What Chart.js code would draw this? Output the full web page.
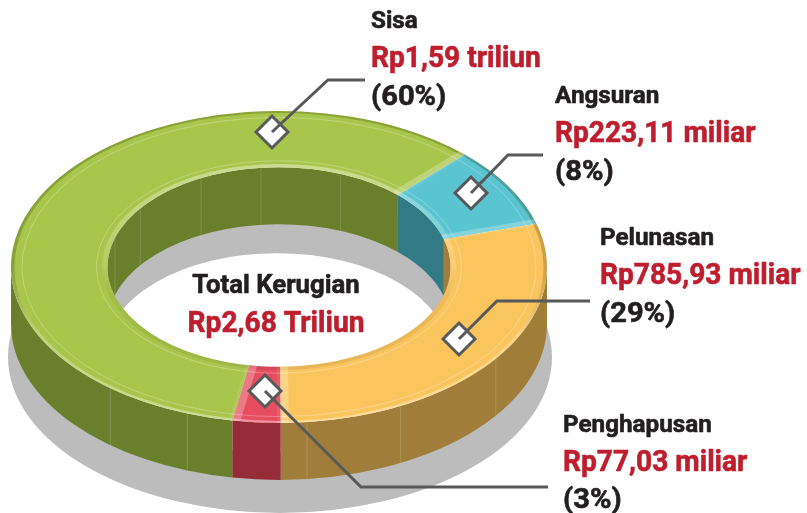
<!DOCTYPE html>
<html><head><meta charset="utf-8">
<style>html,body{margin:0;padding:0;background:#fff}canvas{display:block}</style>
<script src="https://cdn.jsdelivr.net/npm/chart.js@4"></script>
</head><body><canvas id="c" width="807" height="513"></canvas>
<script>
// ---- data ----
const categories = ['Sisa', 'Angsuran', 'Pelunasan', 'Penghapusan'];
const values = [1590, 223.11, 785.93, 77.03];
const amountLabels = ['Rp1,59 triliun', 'Rp223,11 miliar', 'Rp785,93 miliar', 'Rp77,03 miliar'];
const percentLabels = ['(60%)', '(8%)', '(29%)', '(3%)'];
const totalTitle = 'Total Kerugian';
const totalAmount = 'Rp2,68 Triliun';
// ---- style ----
const faceColors = ['#a9c64c', '#5ac4d0', '#fbc55e', '#e64e5f'];
const wallColors = ['#6a7f2c', '#327a85', '#a07d38', '#952c38'];
const groundColor = '#bcbcbc', leaderColor = '#58595b', inkColor = '#231f20', redColor = '#be1e2d';
const FX = 279, FY = 267, SQUASH = 0.582, WALL = 57;
const GROUND_DY = 90;
const FONT = 'Roboto';
const labelLayout = [
  {x:371, y:[28,67,105], marker:[272,132], path:[[328,80],[365,80]]},
  {x:555, y:[103,142,180], marker:[471,193], path:[[508,155],[543,155]]},
  {x:600, y:[245,284,322], marker:[459,339], path:[[497,301],[590,301]]},
  {x:563, y:[432,471,508], marker:[265,391], path:[[361,487],[548,487]]}
];
const outerSeams = [36, 63, 84, 110, 129];
const innerSeams = [197, 216, 243, 264, 291];

function ringGeom(chart){
  const a = chart.getDatasetMeta(0).data;
  return {arcs:a, R:a[0].outerRadius, r:a[0].innerRadius, cx:a[0].x, cy:a[0].y};
}
function clipRange(s, e, lo, hi){
  const out=[];
  for (const k of [-2*Math.PI,0,2*Math.PI]){
    const a=Math.max(s,lo+k), b=Math.min(e,hi+k);
    if (b>a) out.push([a,b]);
  }
  return out;
}
function wallPath(ctx, rad, a, b){
  const ry = rad*SQUASH;
  ctx.beginPath();
  ctx.ellipse(FX, FY, rad, ry, 0, a, b, false);
  ctx.ellipse(FX, FY+WALL, rad, ry, 0, b, a, true);
  ctx.closePath();
}
function seam(ctx, rad, deg){
  const t=deg*Math.PI/180, x=FX+rad*Math.cos(t), y=FY+rad*SQUASH*Math.sin(t);
  ctx.beginPath(); ctx.moveTo(x,y); ctx.lineTo(x,y+WALL); ctx.stroke();
}
const ring3d = {
  id:'ring3d',
  beforeDatasetsDraw(chart){
    const ctx=chart.ctx, g=ringGeom(chart);
    ctx.save();
    ctx.fillStyle=groundColor;
    ctx.beginPath();
    ctx.ellipse(FX+1, FY+GROUND_DY, g.R+4, g.R*SQUASH, 0, 0, 2*Math.PI);
    ctx.ellipse(FX-2, FY+GROUND_DY-4, g.r, g.r*SQUASH, 0, 0, 2*Math.PI);
    ctx.fill('evenodd');
    g.arcs.forEach((arc,i)=>{
      ctx.fillStyle=wallColors[i];
      for (const [a,b] of clipRange(arc.startAngle, arc.endAngle, Math.PI, 2*Math.PI)){
        wallPath(ctx, g.r, a, b); ctx.fill();
      }
    });
    ctx.strokeStyle='rgba(255,255,255,.14)'; ctx.lineWidth=1;
    innerSeams.forEach(d=>seam(ctx,g.r,d));
    g.arcs.forEach((arc,i)=>{
      ctx.fillStyle=wallColors[i];
      for (const [a,b] of clipRange(arc.startAngle, arc.endAngle, 0, Math.PI)){
        wallPath(ctx, g.R, a, b); ctx.fill();
      }
    });
    ctx.strokeStyle='rgba(255,255,255,.16)';
    outerSeams.forEach(d=>seam(ctx,g.R,d));
    ctx.restore();
    ctx.save();
    ctx.translate(FX,FY); ctx.scale(1,SQUASH); ctx.translate(-g.cx,-g.cy);
  },
  afterDatasetsDraw(chart){
    const ctx=chart.ctx, g=ringGeom(chart);
    const {R,r,cx,cy}=g;
    const top=cy-R, bot=cy+R;
    const outerGrad=ctx.createLinearGradient(0,top,0,bot);
    outerGrad.addColorStop(0,'rgba(50,60,0,.26)'); outerGrad.addColorStop(.5,'rgba(40,40,0,.24)');
    outerGrad.addColorStop(.72,'rgba(255,255,255,.26)'); outerGrad.addColorStop(1,'rgba(255,255,255,.40)');
    const innerGrad=ctx.createLinearGradient(0,cy-r,0,cy+r);
    innerGrad.addColorStop(0,'rgba(255,255,255,.38)'); innerGrad.addColorStop(.5,'rgba(255,255,255,.12)');
    innerGrad.addColorStop(.7,'rgba(0,0,0,.05)'); innerGrad.addColorStop(1,'rgba(0,0,0,.08)');
    g.arcs.forEach(arc=>{
      const s=arc.startAngle, e=arc.endAngle;
      ctx.save();
      ctx.beginPath();
      ctx.arc(cx,cy,R,s,e,false); ctx.arc(cx,cy,r,e,s,true); ctx.closePath(); ctx.clip();
      ctx.lineWidth=7; ctx.strokeStyle=outerGrad;
      ctx.beginPath(); ctx.arc(cx,cy,R,s,e); ctx.stroke();
      ctx.lineWidth=11; ctx.strokeStyle=innerGrad;
      ctx.beginPath(); ctx.arc(cx,cy,r,s,e); ctx.stroke();
      const strip=(t,w,al)=>{
        ctx.lineWidth=w; ctx.strokeStyle='rgba(255,255,255,'+al+')';
        ctx.beginPath();
        ctx.moveTo(cx+r*Math.cos(t),cy+r*Math.sin(t));
        ctx.lineTo(cx+R*Math.cos(t),cy+R*Math.sin(t));
        ctx.stroke();
      };
      strip(s,7,.08);
      strip(e,16,.26);
      ctx.lineWidth=0.9; ctx.strokeStyle='rgba(255,255,255,.38)';
      ctx.beginPath(); ctx.arc(cx,cy,R-11,s,e); ctx.stroke();
      ctx.beginPath(); ctx.arc(cx,cy,r+11,s,e); ctx.stroke();
      ctx.restore();
    });
    ctx.restore();
  },
  afterDraw(chart){
    const ctx=chart.ctx;
    const text=(str,x,y,size,color,cond,align)=>{
      ctx.save();
      ctx.font='700 '+size+'px '+FONT; ctx.fillStyle=color; ctx.strokeStyle=color;
      ctx.lineWidth=0.6; ctx.lineJoin='round';
      ctx.textBaseline='alphabetic'; ctx.textAlign=align||'left';
      ctx.translate(x,y); ctx.scale(cond,1);
      ctx.fillText(str,0,0); ctx.strokeText(str,0,0); ctx.restore();
    };
    labelLayout.forEach((L,i)=>{
      const [mx,my]=L.marker;
      ctx.save();
      ctx.beginPath();
      ctx.moveTo(mx,my-16); ctx.lineTo(mx+16,my); ctx.lineTo(mx,my+16); ctx.lineTo(mx-16,my); ctx.closePath();
      ctx.fillStyle='#fff'; ctx.fill();
      ctx.strokeStyle=leaderColor; ctx.lineWidth=3; ctx.lineJoin='miter'; ctx.stroke();
      ctx.beginPath(); ctx.moveTo(mx,my);
      L.path.forEach(p=>ctx.lineTo(p[0],p[1]));
      ctx.lineWidth=3; ctx.stroke();
      ctx.restore();
      text(categories[i],L.x,L.y[0],24,inkColor,1.01);
      text(amountLabels[i],L.x,L.y[1],29,redColor,0.97);
      text(percentLabels[i],L.x,L.y[2],28,inkColor,1.04);
    });
    text(totalTitle,276,293,26,inkColor,0.99,'center');
    text(totalAmount,276,332,29,redColor,0.97,'center');
  }
};
new Chart(document.getElementById('c'),{
  type:'doughnut',
  data:{labels:categories,datasets:[{data:values,backgroundColor:faceColors,borderWidth:0,clip:false}]},
  options:{
    responsive:false,animation:false,
    rotation:190,cutout:'64%',radius:268,
    layout:{padding:0},
    plugins:{legend:{display:false},tooltip:{enabled:false},title:{display:false}}
  },
  plugins:[ring3d]
});
</script></body></html>
